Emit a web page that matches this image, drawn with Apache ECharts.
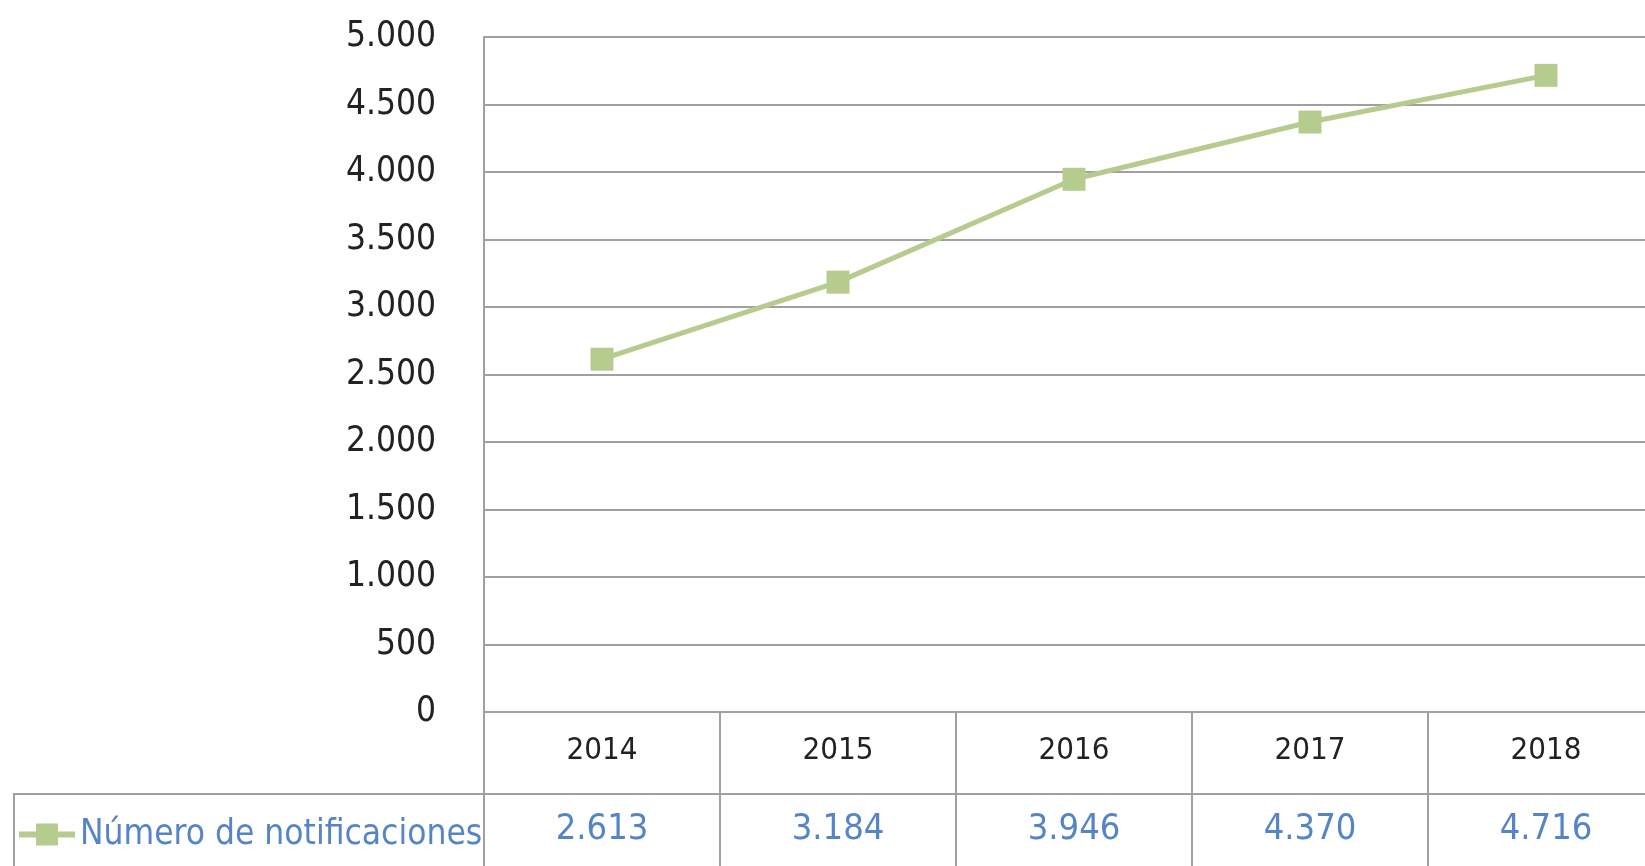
<!DOCTYPE html>
<html>
<head>
<meta charset="utf-8">
<script src="https://cdn.jsdelivr.net/npm/echarts@6/dist/echarts.min.js"></script>
<style>html,body{margin:0;padding:0;background:#fff}#c{width:1645px;height:866px}</style>
</head>
<body>
<div id="c"></div>
<script>
const years = ['2014', '2015', '2016', '2017', '2018'];
const notificaciones = [2613, 3184, 3946, 4370, 4716];
const seriesName = 'Número de notificaciones';
const yTicks = [0, 500, 1000, 1500, 2000, 2500, 3000, 3500, 4000, 4500, 5000];

const FONT = "'Liberation Sans Narrow', 'DejaVu Sans Condensed', sans-serif";
const GRID = '#a0a0a0';
const BLUE = '#5585c5';
const GREEN = '#b5cc8e';
const fmt = v => String(v).replace(/\B(?=(\d{3})+(?!\d))/g, '.');

const chart = echarts.init(document.getElementById('c'), null, {renderer: 'canvas'});
chart.setOption({
  animation: false,
  backgroundColor: '#fff',
  grid: {left: 484, width: 1180, top: 37, height: 675, containLabel: false, outerBoundsMode: 'none'},
  legend: {
    data: [{name: seriesName, icon: 'path://M0,8 H17 V0 H39 V8 H56 V14 H39 V22 H17 V14 H0 Z'}],
    left: 14, top: 812,
    itemWidth: 56, itemHeight: 22, itemGap: 0,
    textStyle: {fontFamily: FONT, fontSize: 35, color: BLUE},
    selectedMode: false
  },
  xAxis: [
    {
      type: 'category', data: years, position: 'bottom', boundaryGap: true,
      axisLine: {show: true, lineStyle: {color: GRID, width: 2}},
      axisTick: {show: true, interval: 0, length: 160, lineStyle: {color: GRID, width: 2}},
      axisLabel: {fontFamily: FONT, fontSize: 31, color: '#222', margin: 23},
      splitLine: {show: false}
    },
    {
      type: 'category', data: years, position: 'bottom', offset: 82, boundaryGap: true,
      axisLine: {show: true, lineStyle: {color: GRID, width: 2}},
      axisTick: {show: false},
      axisLabel: {fontFamily: FONT, fontSize: 36, color: BLUE, margin: 18,
        formatter: (v, i) => fmt(notificaciones[i])},
      splitLine: {show: false}
    }
  ],
  yAxis: {
    type: 'value', min: yTicks[0], max: yTicks[yTicks.length - 1], interval: yTicks[1] - yTicks[0],
    axisLine: {show: true, lineStyle: {color: GRID, width: 2}},
    axisTick: {show: false},
    axisLabel: {fontFamily: FONT, fontSize: 35, color: '#222', margin: 48, formatter: v => fmt(v)},
    splitLine: {show: true, lineStyle: {color: GRID, width: 2}}
  },
  graphic: [
    {type: 'line', shape: {x1: 14, y1: 794, x2: 485, y2: 794}, style: {stroke: GRID, lineWidth: 2}},
    {type: 'line', shape: {x1: 14, y1: 793, x2: 14, y2: 870}, style: {stroke: GRID, lineWidth: 2}}
  ],
  series: [{
    name: seriesName, type: 'line', data: notificaciones, xAxisIndex: 0,
    symbol: 'rect', symbolSize: 23,
    lineStyle: {color: GREEN, width: 5},
    itemStyle: {color: GREEN},
    label: {show: false}
  }]
});
</script>
</body>
</html>
